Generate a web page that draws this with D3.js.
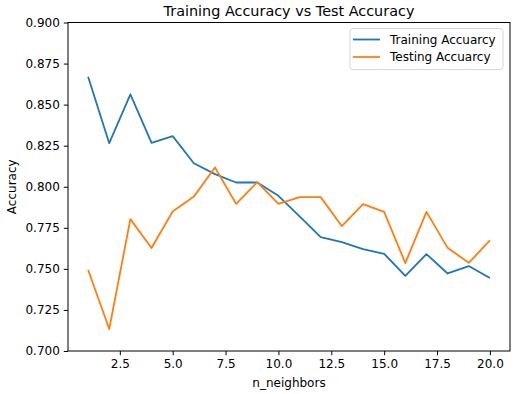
<!DOCTYPE html>
<html>
<head>
<meta charset="utf-8">
<script src="https://cdn.jsdelivr.net/npm/d3@7"></script>
<style>
  body { margin: 0; background: #fff; }
  text { font-family: "DejaVu Sans", sans-serif; fill: #000; }
</style>
</head>
<body>
<div id="chart"></div>
<script>
(function(){
	var neighbors = [1, 2, 3, 4, 5, 6, 7, 8, 9, 10, 11, 12, 13, 14, 15, 16, 17, 18, 19, 20];
	var trainAcc = [0.867, 0.8265, 0.8563, 0.8267, 0.8308, 0.8143, 0.8077, 0.8026, 0.8026, 0.7945,
		0.7819, 0.7693, 0.7663, 0.762, 0.7592, 0.7458, 0.759, 0.7472, 0.7517, 0.7444];
	var testAcc = [0.7495, 0.7134, 0.7803, 0.7627, 0.7849, 0.794, 0.8117, 0.7896, 0.8028, 0.7896,
		0.7937, 0.7937, 0.776, 0.7894, 0.7847, 0.7535, 0.7847, 0.7628, 0.7537, 0.7673];
	var xTicks = [2.5, 5.0, 7.5, 10.0, 12.5, 15.0, 17.5, 20.0];
	var yTicks = [0.700, 0.725, 0.750, 0.775, 0.800, 0.825, 0.850, 0.875, 0.900];
	var seriesNames = ["Training Accuarcy", "Testing Accuarcy"];
	var colors = ["#1f77b4", "#ff7f0e"];

	var W = 518, H = 394;
	var margin = { top: 22.5, right: 8, bottom: 43, left: 68 };
	var width = W - margin.left - margin.right;
	var height = H - margin.top - margin.bottom;

	var svg = d3.select("#chart").append("svg")
		.attr("width", W)
		.attr("height", H);

	var g = svg.append("g")
		.attr("transform", "translate(" + margin.left + "," + margin.top + ")");

	// matplotlib-like 5% x margins
	var x = d3.scaleLinear().domain([0.05, 20.95]).range([0, width]);
	var y = d3.scaleLinear().domain([0.7, 0.9]).range([height, 0]);

	var xAxis = d3.axisBottom(x).tickValues(xTicks).tickFormat(d3.format(".1f")).tickSizeOuter(0).tickSize(4.2).tickPadding(4);
	var yAxis = d3.axisLeft(y).tickValues(yTicks).tickFormat(d3.format(".3f")).tickSizeOuter(0).tickSize(4.2).tickPadding(4);

	var line = d3.line()
		.x(function(d, i){ return x(neighbors[i]); })
		.y(function(d){ return y(d); });

	[trainAcc, testAcc].forEach(function(s, k){
		g.append("path")
			.datum(s)
			.attr("fill", "none")
			.attr("stroke", colors[k])
			.attr("stroke-width", 1.8)
			.attr("stroke-linejoin", "round")
			.attr("d", line);
	});

	var gx = g.append("g")
		.attr("transform", "translate(0," + height + ")")
		.call(xAxis);
	var gy = g.append("g").call(yAxis);

	[gx, gy].forEach(function(a){
		a.select(".domain").remove();
		a.selectAll("line").attr("stroke", "#000").attr("stroke-width", 1);
		a.selectAll("text").style("font-size", "12px").style("font-family", "DejaVu Sans, sans-serif");
	});

	// frame
	g.append("rect")
		.attr("width", width)
		.attr("height", height)
		.attr("fill", "none")
		.attr("stroke", "#000")
		.attr("stroke-width", 1);

	svg.append("text")
		.attr("x", margin.left + width / 2)
		.attr("y", 16)
		.attr("text-anchor", "middle")
		.style("font-size", "14.4px")
		.text("Training Accuracy vs Test Accuracy");

	svg.append("text")
		.attr("x", margin.left + width / 2)
		.attr("y", 387)
		.attr("text-anchor", "middle")
		.style("font-size", "12px")
		.text("n_neighbors");

	svg.append("text")
		.attr("transform", "translate(16," + (margin.top + height / 2) + ") rotate(-90)")
		.attr("text-anchor", "middle")
		.style("font-size", "12px")
		.text("Accuracy");

	// legend
	var lg = svg.append("g").attr("transform", "translate(350,28.5)");
	lg.append("rect")
		.attr("width", 153)
		.attr("height", 41)
		.attr("rx", 3)
		.attr("fill", "#fff")
		.attr("fill-opacity", 0.8)
		.attr("stroke", "#d6d6d6");
	seriesNames.forEach(function(name, k){
		var yy = 11 + k * 17.5;
		lg.append("line")
			.attr("x1", 3).attr("x2", 30)
			.attr("y1", yy).attr("y2", yy)
			.attr("stroke", colors[k])
			.attr("stroke-width", 1.8);
		lg.append("text")
			.attr("x", 40)
			.attr("y", yy + 4.3)
			.style("font-size", "12px")
			.text(name);
	});
})();
</script>
</body>
</html>
